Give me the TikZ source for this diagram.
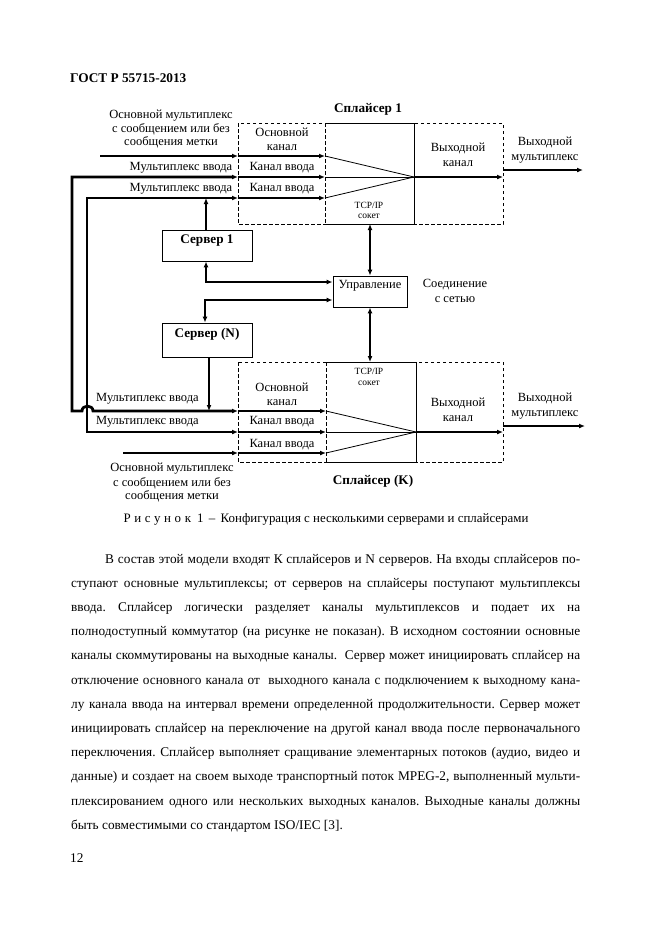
\documentclass[tikz,border=0pt]{standalone}
\usepackage{fontspec}
\setmainfont{Liberation Serif}
\usetikzlibrary{arrows.meta}
\begin{document}
\frenchspacing
\begin{tikzpicture}[x=1pt,y=-1pt,
  lbl/.style={font=\fontsize{12.5}{13.5}\selectfont, inner sep=0pt, anchor=base},
  lblw/.style={font=\fontsize{12.5}{13.5}\selectfont, inner sep=0pt, anchor=base west},
  ttl/.style={font=\fontsize{13.2}{14}\selectfont\bfseries, inner sep=0pt, anchor=base},
  small/.style={font=\fontsize{9.5}{10}\selectfont, inner sep=0pt, anchor=base},
  body/.style={font=\fontsize{13.3}{16}\selectfont, inner sep=0pt, anchor=base west},
  boxline/.style={line width=0.9pt},
  dashline/.style={line width=0.9pt, dash pattern=on 3.5pt off 2.5pt},
  srv/.style={draw, line width=0.9pt, inner sep=0pt},
  bus/.style={line width=2.8pt},
  vbus/.style={line width=2.5pt},
  tip/.style={-{Latex[length=6pt,width=5pt]}},
  both/.style={{Latex[length=6pt,width=5pt]}-{Latex[length=6pt,width=5pt]}},
  fan/.style={line width=0.8pt}]
\useasboundingbox (0,0) rectangle (661,935);
\fill[white] (0,0) rectangle (661,935);

% header
\node[font=\fontsize{13.3}{16}\selectfont\bfseries, inner sep=0pt, anchor=base west] (hdr) at (70,82) {ГОСТ Р 55715-2013};

% ---------- top splicer ----------
\draw[dashline] (238,123) rectangle (503,224);
\draw[dashline] (325,123) -- (325,224);
\draw[boxline] (325,123) -- (414,123) -- (414,224) -- (325,224);
\node[ttl] (sp1) at (368,112.5) {Сплайсер 1};

\coordinate (A1in) at (100,156);
\coordinate (A1e) at (238,156); \coordinate (A1c) at (325,156);
\coordinate (A2e) at (238,177); \coordinate (A2c) at (325,177);
\coordinate (A3e) at (238,198); \coordinate (A3c) at (325,198);
\coordinate (J1) at (414,177); \coordinate (O1) at (503,177);
\coordinate (O1a) at (503,170); \coordinate (O1b) at (583,170);
\coordinate (T1) at (370,224);

% ---------- bottom splicer ----------
\draw[dashline] (238,362) rectangle (503,462);
\draw[dashline] (326,362) -- (326,462);
\draw[boxline] (326,362) -- (416,362) -- (416,462) -- (326,462);
\node[ttl] (spK) at (373,484.5) {Сплайсер (K)};

\coordinate (B1e) at (238,411); \coordinate (B1c) at (326,411);
\coordinate (B2e) at (238,432); \coordinate (B2c) at (326,432);
\coordinate (B3s) at (123,453);
\coordinate (B3e) at (238,453); \coordinate (B3c) at (326,453);
\coordinate (J2) at (416,432); \coordinate (O2) at (503,432);
\coordinate (O2a) at (503,426); \coordinate (O2b) at (585,426);
\coordinate (T2) at (370,362);

% left buses
\coordinate (V1top) at (72,177); \coordinate (V1bot) at (72,411);
\coordinate (hopL) at (82,411); \coordinate (hopR) at (93,411);
\coordinate (V2top) at (87,198); \coordinate (V2bot) at (87,432);

% ---------- servers & control ----------
\node[srv, minimum width=90pt, minimum height=31pt] (s1) at (207,245.5) {};
\node[ttl] (s1t) at (207,243.5) {Сервер 1};
\node[srv, minimum width=90pt, minimum height=34pt] (sN) at (207,340) {};
\node[ttl] (sNt) at (207,337.5) {Сервер (N)};
\node[srv, minimum width=74pt, minimum height=31pt] (upr) at (370,291.5) {};
\node[lbl] (uprt) at (370,288) {Управление};
\path (upr.west) ++(0,-9.5) coordinate (uW1);
\path (upr.west) ++(0,8.5) coordinate (uW2);

% ---------- connectors ----------
\draw[bus,tip] (A1in) -- (A1e);
\draw[bus,tip] (A1e) -- (A1c);
\draw[bus,tip] (A2e) -- (A2c);
\draw[bus,tip] (A3e) -- (A3c);
\draw[bus,both] (B1e) -- (hopR) .. controls (93,404.5) and (82,404.5) .. (hopL) -- (V1bot) -- (V1top) -- (A2e);
\draw[bus,both] (B2e) -- (V2bot) -- (V2top) -- (A3e);
\draw[bus,tip] (B1e) -- (B1c);
\draw[bus,tip] (B2e) -- (B2c);
\draw[bus,tip] (B3s) -- (B3e);
\draw[bus,tip] (B3e) -- (B3c);

\draw[fan] (A1c) -- (J1); \draw[fan] (A2c) -- (J1); \draw[fan] (A3c) -- (J1);
\draw[fan] (B1c) -- (J2); \draw[fan] (B2c) -- (J2); \draw[fan] (B3c) -- (J2);
\draw[bus,tip] (J1) -- (O1);
\draw[bus,tip] (O1a) -- (O1b);
\draw[bus,tip] (J2) -- (O2);
\draw[bus,tip] (O2a) -- (O2b);

\draw[bus,tip] ([xshift=-1pt]s1.north) -- ([xshift=-1pt]s1.north |- A3e);
\draw[bus,both] ([xshift=-1pt]s1.south) |- (uW1);
\draw[bus,both] ([xshift=-2pt]sN.north) |- (uW2);
\draw[bus,tip] ([xshift=2pt]sN.south) -- ([xshift=2pt]sN.south |- B1e);
\draw[vbus,both] (T1) -- (upr.north);
\draw[vbus,both] (upr.south) -- (T2);

% ---------- labels ----------
\node[lbl] (l1a) at (171,118.5) {Основной мультиплекс};
\node[lbl] (l1b) at (171,132) {с сообщением или без};
\node[lbl] (l1c) at (171,145.5) {сообщения метки};
\node[lbl] (m1) at (181,170.5) {Мультиплекс ввода};
\node[lbl] (m2) at (181,191.5) {Мультиплекс ввода};
\node[lbl] (k1a) at (282,136.5) {Основной};
\node[lbl] (k1b) at (282,150) {канал};
\node[lbl] (k2) at (282,170.5) {Канал ввода};
\node[lbl] (k3) at (282,191.5) {Канал ввода};
\node[lbl] (o1a) at (458,151.5) {Выходной};
\node[lbl] (o1b) at (458,166) {канал};
\node[lbl] (x1a) at (545,145.5) {Выходной};
\node[lbl] (x1b) at (545,160.5) {мультиплекс};
\node[small] (tc1a) at (369,208.5) {TCP/IP};
\node[small] (tc1b) at (369,218.5) {сокет};
\node[lbl] (net1) at (455,287.5) {Соединение};
\node[lbl] (net2) at (455,302) {с сетью};

\node[small] (tc2a) at (369,374.5) {TCP/IP};
\node[small] (tc2b) at (369,385.5) {сокет};
\node[lbl] (k4a) at (282,391.5) {Основной};
\node[lbl] (k4b) at (282,405) {канал};
\node[lbl] (k5) at (282,424.5) {Канал ввода};
\node[lbl] (k6) at (282,447.5) {Канал ввода};
\node[lblw] (m3) at (96,401.5) {Мультиплекс ввода};
\node[lblw] (m4) at (96,424.5) {Мультиплекс ввода};
\node[lbl] (o2a) at (458,406.5) {Выходной};
\node[lbl] (o2b) at (458,421) {канал};
\node[lbl] (x2a) at (545,401.5) {Выходной};
\node[lbl] (x2b) at (545,416.5) {мультиплекс};
\node[lbl] (l2a) at (172,471.5) {Основной мультиплекс};
\node[lbl] (l2b) at (172,486) {с сообщением или без};
\node[lbl] (l2c) at (172,499.5) {сообщения метки};

% caption
\node[lbl, font=\fontsize{12.9}{14}\selectfont] (cap) at (326,522) {Р\kern3.6pt и\kern3.6pt с\kern3.6pt у\kern3.6pt н\kern3.6pt о\kern3.6pt к\kern6pt 1 \,–\, Конфигурация с несколькими серверами и сплайсерами};

% body text
\node[body] (b1) at (105,563) {\makebox[475pt][s]{В состав этой модели входят К сплайсеров и N серверов. На входы сплайсеров по-}};
\node[body] (b2) at (71,587.2) {\makebox[509pt][s]{ступают основные мультиплексы; от серверов на сплайсеры поступают мультиплексы}};
\node[body] (b3) at (71,611.4) {\makebox[509pt][s]{ввода. Сплайсер логически разделяет каналы мультиплексов и подает их на}};
\node[body] (b4) at (71,635.6) {\makebox[509pt][s]{полнодоступный коммутатор (на рисунке не показан). В исходном состоянии основные}};
\node[body] (b5) at (71,659.8) {\makebox[509pt][s]{каналы скоммутированы на выходные каналы.\ \ Сервер может инициировать сплайсер на}};
\node[body] (b6) at (71,684) {\makebox[509pt][s]{отключение основного канала от\ \ выходного канала с подключением к выходному кана-}};
\node[body] (b7) at (71,708.2) {\makebox[509pt][s]{лу канала ввода на интервал времени определенной продолжительности. Сервер может}};
\node[body] (b8) at (71,732.4) {\makebox[509pt][s]{инициировать сплайсер на переключение на другой канал ввода после первоначального}};
\node[body] (b9) at (71,756.6) {\makebox[509pt][s]{переключения. Сплайсер выполняет сращивание элементарных потоков (аудио, видео и}};
\node[body] (b10) at (71,780.8) {\makebox[509pt][s]{данные) и создает на своем выходе транспортный поток MPEG-2, выполненный мульти-}};
\node[body] (b11) at (71,805) {\makebox[509pt][s]{плексированием одного или нескольких выходных каналов. Выходные каналы должны}};
\node[body] (b12) at (71,829.2) {быть совместимыми со стандартом ISO/IEC [3].};

\node[body] (pg) at (70,862) {12};
\end{tikzpicture}
\end{document}
